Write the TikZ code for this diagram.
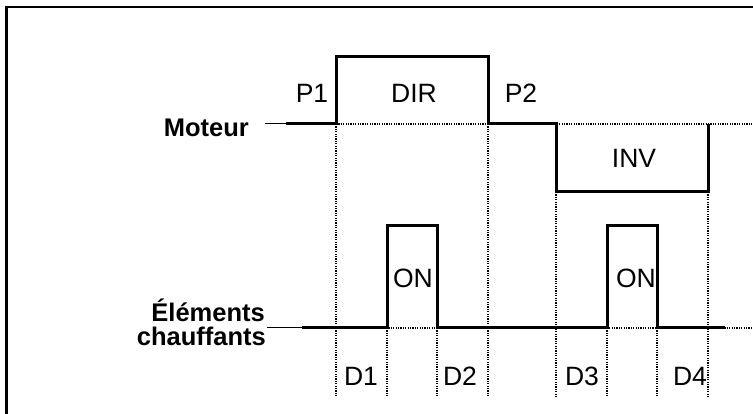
\documentclass[tikz,border=0pt]{standalone}
\usepackage{fontspec}
\setmainfont{Liberation Sans}
\begin{document}
\begin{tikzpicture}[x=1pt,y=-1pt,
  sig/.style={line width=3pt, line join=miter},
  guide/.style={line width=1.5pt, dash pattern=on 1.2pt off 1.2pt},
  thinl/.style={line width=1pt},
  lbl/.style={font=\fontsize{26.5}{24}\selectfont, inner sep=0pt, anchor=base},
  blbl/.style={font=\fontsize{25.5}{23}\selectfont\bfseries, inner sep=0pt, anchor=base east}]
\useasboundingbox (0,0) rectangle (753,414);
\fill[white] (0,0) rectangle (753,414);
% frame
\draw[line width=2.5pt] (6.5,430) -- (6.5,7) -- (770,7);
% dotted guides
\draw[guide] (336,124) -- (753,124);
\draw[guide] (302,328) -- (753,328);
\foreach \x in {336,488} \draw[guide] (\x,124) -- (\x,397);
\foreach \x in {556,708} \draw[guide] (\x,192) -- (\x,397);
\foreach \x in {387,437,607,657} \draw[guide] (\x,328) -- (\x,397);
% motor signal
\draw[thinl] (265,124) -- (286,124);
\draw[sig] (286,124) -| (336,57) -| (488,124) -| (556,192) -| (708,124);
% heater signal
\draw[thinl] (267,328) -- (302,328);
\draw[sig] (302,328) -| (387,226) -| (437,328) -| (607,226) -| (657,328) -- (725,328);
% labels
\node[blbl] (mot) at (249,137) {Moteur};
\node[blbl] (ele) at (265,322) {Éléments};
\node[blbl] (chf) at (266,345) {chauffants};
\node[lbl] (p1) at (312,103) {P1};
\node[lbl] (dir) at (414,103) {DIR};
\node[lbl] (p2) at (521,103) {P2};
\node[lbl] (inv) at (634,168) {INV};
\node[lbl] (on1) at (413,288) {ON};
\node[lbl] (on2) at (636,288) {ON};
\node[lbl] (d1) at (361,385) {D1};
\node[lbl] (d2) at (460,385) {D2};
\node[lbl] (d3) at (582,385) {D3};
\node[lbl] (d4) at (690,385) {D4};
\end{tikzpicture}
\end{document}
